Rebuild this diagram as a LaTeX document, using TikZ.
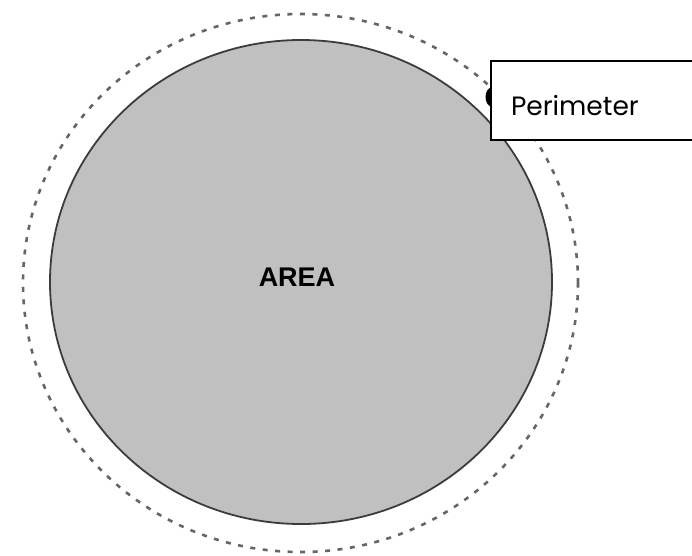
\documentclass[tikz,border=0pt]{standalone}
\usepackage{fontspec}
\setsansfont{Liberation Sans}
\newfontfamily\calloutfont{Poppins}
\usepackage{tikz}
\usetikzlibrary{shapes.geometric, positioning}
\definecolor{grisArea}{HTML}{C0C0C0}
\definecolor{bordeArea}{HTML}{3C3C3C}
\definecolor{grisPunto}{HTML}{666666}

\begin{document}
\begin{tikzpicture}[x=1pt, y=-1pt,
        areashape/.style={ellipse, draw=bordeArea, fill=grisArea, line width=1.8pt,
            minimum width=502pt, minimum height=484pt, inner sep=0pt},
        perimshape/.style={ellipse, draw=grisPunto, line width=2.6pt,
            dash pattern=on 5pt off 7.5pt, minimum width=555pt, minimum height=538pt, inner sep=0pt},
        areatext/.style={font=\sffamily\bfseries\fontsize{27}{30}\selectfont, inner sep=0pt},
        dotmark/.style={ellipse, fill=black, minimum width=13pt, minimum height=19pt, inner sep=0pt},
        callout/.style={draw=black, fill=white, line width=2pt, anchor=north west,
            text width=200pt, align=left, inner xsep=20pt, inner ysep=0pt,
            text height=54pt, text depth=25pt, font=\calloutfont\fontsize{26.5}{30}\selectfont}
    ]
        \useasboundingbox (0,0) rectangle (692,555);
        \fill[white] (0,0) rectangle (692,555);

        \node[perimshape] (perim) at (300.5,283) {};
        \node[areashape] (area) at (301,282) {};
        \node[areatext] (areaname) at (297,277) {AREA};

        \node[dotmark] (pdot) at (492,97) {};
        \node[callout] (plabel) at (490,60) {Perimeter};
    \end{tikzpicture}
\end{document}
